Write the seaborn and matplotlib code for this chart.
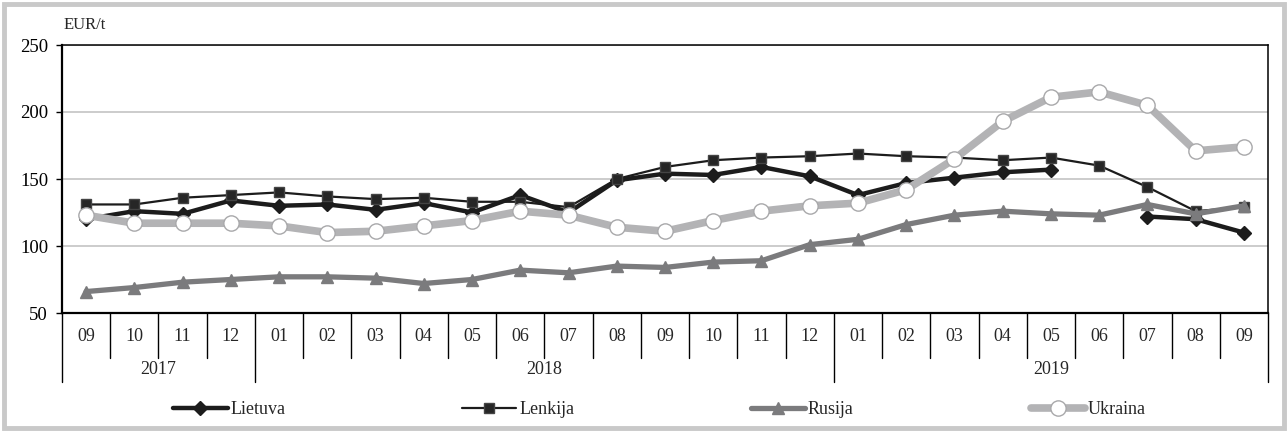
import numpy as np
import pandas as pd
import seaborn as sns
import matplotlib.pyplot as plt
import matplotlib.transforms as mtransforms
from matplotlib.lines import Line2D
from matplotlib.patches import Rectangle

# ---------- data (EUR/t) ----------
months = ['09', '10', '11', '12',
          '01', '02', '03', '04', '05', '06', '07', '08', '09', '10', '11', '12',
          '01', '02', '03', '04', '05', '06', '07', '08', '09']
years = ['2017', '2018', '2019']
year_spans = [(0, 3), (4, 15), (16, 24)]

lietuva = [120, 126, 124, 134, 130, 131, 127, 132, 125, 138, 125, 149, 154,
           153, 159, 152, 138, 147, 151, 155, 157, np.nan, 122, 120, 110]
lenkija = [131, 131, 136, 138, 140, 137, 135, 136, 133, 133, 129, 150, 159,
           164, 166, 167, 169, 167, 166, 164, 166, 160, 144, 126, 129]
rusija = [66, 69, 73, 75, 77, 77, 76, 72, 75, 82, 80, 85, 84,
          88, 89, 101, 105, 116, 123, 126, 124, 123, 131, 124, 130]
ukraina = [123, 117, 117, 117, 115, 110, 111, 115, 119, 126, 123, 114, 111,
           119, 126, 130, 132, 142, 165, 193, 211, 215, 205, 171, 174]

series = {'Lietuva': lietuva, 'Lenkija': lenkija, 'Rusija': rusija, 'Ukraina': ukraina}

rows = []
for name, vals in series.items():
    seg = 0
    for i, v in enumerate(vals):
        if pd.isna(v):
            seg += 1
            continue
        rows.append({'pos': i, 'value': v, 'series': name, 'seg': seg})
df = pd.DataFrame(rows)

# ---------- styles ----------
styles = {
    'Lietuva': dict(color='#1c1c1c', lw=3.2, marker='D', ms=7, mfc='#1c1c1c', mec='#1c1c1c'),
    'Lenkija': dict(color='#1c1c1c', lw=1.6, marker='s', ms=7.5, mfc='#262626', mec='#444444'),
    'Rusija': dict(color='#7b7b7d', lw=3.8, marker='^', ms=9, mfc='#7b7b7d', mec='#7b7b7d'),
    'Ukraina': dict(color='#b3b3b5', lw=5.5, marker='o', ms=11, mfc='white', mec='#a8a8aa'),
}

sns.set_style('white')
plt.rcParams['font.family'] = ['Liberation Serif', 'DejaVu Serif']

fig = plt.figure(figsize=(12.88, 4.32), dpi=100)
ax = fig.add_axes([62 / 1288, 1 - 313 / 432, 1206 / 1288, 268 / 432])

for name in series:
    st = styles[name]
    sns.lineplot(data=df[df['series'] == name], x='pos', y='value', units='seg',
                 estimator=None, ax=ax, color=st['color'], linewidth=st['lw'],
                 marker=st['marker'], markersize=st['ms'], markerfacecolor=st['mfc'],
                 markeredgecolor=st['mec'], markeredgewidth=1.0, legend=False,
                 solid_joinstyle='round', solid_capstyle='round')

# ---------- axes ----------
ax.set_xlim(-0.5, 24.5)
ax.set_ylim(50, 250)
ax.set_yticks([50, 100, 150, 200, 250])
ax.set_xticks([])
ax.set_xlabel('')
ax.set_ylabel('')
ax.yaxis.grid(True, color='#c8c8c8', lw=1.3)
ax.set_axisbelow(True)
ax.tick_params(axis='y', left=True, length=4, width=1, direction='out',
               pad=6, labelsize=13.5, colors='black')
for side in ['left', 'bottom']:
    ax.spines[side].set_color('black')
    ax.spines[side].set_linewidth(1.6)
for side in ['top', 'right']:
    ax.spines[side].set_color('black')
    ax.spines[side].set_linewidth(1.1)

trans = mtransforms.blended_transform_factory(ax.transData, ax.transAxes)
for i, m in enumerate(months):
    ax.text(i, -0.087, m, transform=trans, ha='center', va='center', fontsize=13)
for yr, (a, b) in zip(years, year_spans):
    ax.text((a + b) / 2, -0.212, yr, transform=trans, ha='center', va='center', fontsize=13)
year_edges = [0, 4, 16, 25]
for i in range(26):
    low = -0.257 if i in year_edges else -0.168
    ax.plot([i - 0.5, i - 0.5], [0, low], transform=trans, color='black',
            lw=1.0, clip_on=False)

fig.text(64 / 1288, 1 - 25 / 432, 'EUR/t', fontsize=12, va='center', ha='left')

# ---------- legend ----------
handles = [Line2D([0], [0], color=styles[n]['color'], lw=styles[n]['lw'],
                  marker=styles[n]['marker'], ms=styles[n]['ms'],
                  mfc=styles[n]['mfc'], mec=styles[n]['mec'], markevery=[1])
           for n in series]
for h in handles:
    h.set_xdata([0, 0.5, 1])
    h.set_ydata([0, 0, 0])
fig.legend(handles, list(series.keys()), ncol=4, loc='center',
           bbox_to_anchor=(0.512, 1 - 410 / 432), frameon=False, fontsize=13,
           handlelength=3.0, handletextpad=0.15, columnspacing=9.8)

# outer grey frame
fig.patches.append(Rectangle((4 / 1288, 4 / 432), 1280 / 1288, 424 / 432, fill=False,
                             lw=3.5, edgecolor='#c9c9c9', transform=fig.transFigure))

fig.savefig('out.png', dpi=100)
